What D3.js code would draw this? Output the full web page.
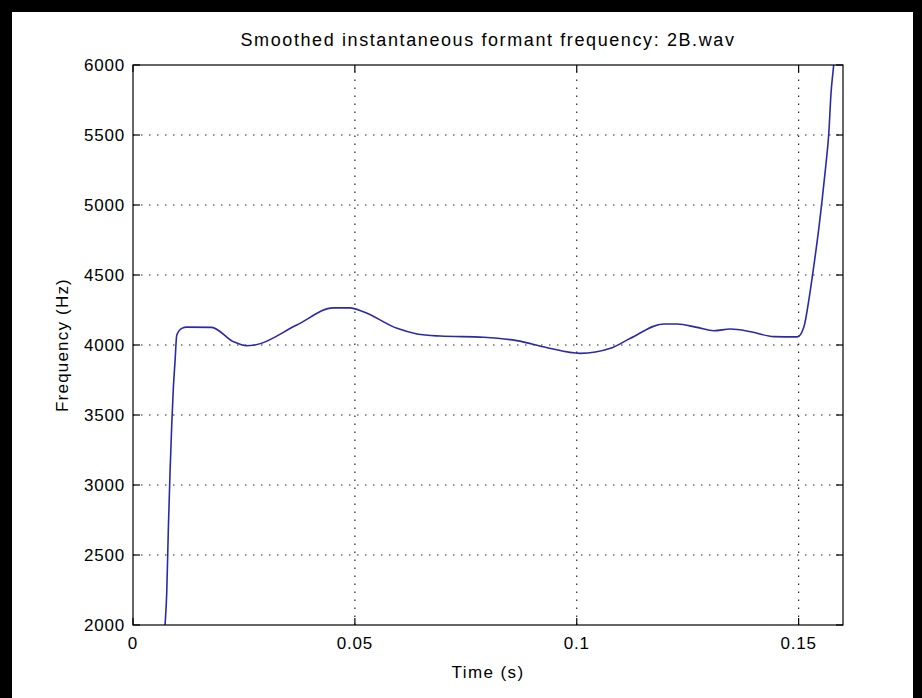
<!DOCTYPE html>
<html>
<head>
<meta charset="utf-8">
<script src="https://cdn.jsdelivr.net/npm/d3@7"></script>
<style>
  html, body { margin: 0; padding: 0; background: #fff; }
  text { font-family: "Liberation Sans", Arial, sans-serif; fill: #000; }
</style>
</head>
<body>
<div id="app"></div>
<script>
// time (s) and smoothed formant frequency (Hz)
const times = [0.0070, 0.00722, 0.0076, 0.00796, 0.00834, 0.00873, 0.00909, 0.00947, 0.00986,
  0.0110, 0.0121, 0.0177, 0.0226, 0.0256, 0.0275, 0.0369, 0.0452, 0.0489, 0.0519, 0.0595,
  0.0640, 0.0692, 0.0790, 0.0865, 0.0933, 0.1008, 0.1076, 0.1121, 0.1196, 0.1226, 0.1271,
  0.1309, 0.1346, 0.1392, 0.1444, 0.1497, 0.1512, 0.1523, 0.1534, 0.1546, 0.1553, 0.1561,
  0.1568, 0.1573, 0.1579, 0.1583];
const freqs = [1900, 2000, 2229, 2679, 3086, 3429, 3693, 3881, 4070,
  4119, 4128, 4126, 4024, 3995, 4000, 4143, 4265, 4265, 4238, 4119,
  4079, 4064, 4055, 4031, 3981, 3940, 3976, 4048, 4150, 4150, 4126,
  4102, 4114, 4095, 4060, 4058, 4131, 4321, 4559, 4845, 5036, 5274,
  5512, 5798, 6000, 6150];

const xTicks = [0, 0.05, 0.1, 0.15];
const yTicks = [2000, 2500, 3000, 3500, 4000, 4500, 5000, 5500, 6000];
const xTickLabels = ["0", "0.05", "0.1", "0.15"];

const W = 922, H = 698;
const m = { left: 133, top: 65, right: 843, bottom: 625 };

const svg = d3.select("#app").append("svg")
  .attr("width", W).attr("height", H);

// black frame
svg.append("rect").attr("x", 0).attr("y", 0).attr("width", W).attr("height", H).attr("fill", "#000");
svg.append("rect").attr("x", 12).attr("y", 12).attr("width", 901).attr("height", H - 12).attr("fill", "#fff");

const x = d3.scaleLinear().domain([0, 0.16]).range([m.left, m.right]);
const y = d3.scaleLinear().domain([2000, 6000]).range([m.bottom, m.top]);

// dotted grid
const grid = svg.append("g")
  .attr("stroke", "#222").attr("stroke-width", 1.2).attr("stroke-dasharray", "1.5,6.5");
grid.selectAll("line.gx").data(xTicks.filter(d => d > 0)).enter().append("line")
  .attr("x1", d => x(d)).attr("x2", d => x(d)).attr("y1", m.bottom).attr("y2", m.top);
grid.selectAll("line.gy").data(yTicks.filter(d => d > 2000 && d < 6000)).enter().append("line")
  .attr("y1", d => y(d)).attr("y2", d => y(d)).attr("x1", m.left).attr("x2", m.right);

// data line
svg.append("clipPath").attr("id", "clip").append("rect")
  .attr("x", m.left).attr("y", m.top).attr("width", m.right - m.left).attr("height", m.bottom - m.top);

const pts = times.map((t, i) => [t, freqs[i]]);
svg.append("path")
  .datum(pts)
  .attr("clip-path", "url(#clip)")
  .attr("fill", "none")
  .attr("stroke", "#2a2aa8")
  .attr("stroke-width", 1.6)
  .attr("d", d3.line().x(d => x(d[0])).y(d => y(d[1])).curve(d3.curveMonotoneX));

// box and inward ticks
const tk = 7;
const ax = svg.append("g").attr("stroke", "#000").attr("stroke-width", 1.2).attr("fill", "none");
ax.append("rect").attr("x", m.left).attr("y", m.top)
  .attr("width", m.right - m.left).attr("height", m.bottom - m.top);
xTicks.forEach(d => {
  ax.append("line").attr("x1", x(d)).attr("x2", x(d)).attr("y1", m.bottom).attr("y2", m.bottom - tk);
  ax.append("line").attr("x1", x(d)).attr("x2", x(d)).attr("y1", m.top).attr("y2", m.top + tk);
});
yTicks.forEach(d => {
  ax.append("line").attr("x1", m.left).attr("x2", m.left + tk).attr("y1", y(d)).attr("y2", y(d));
  ax.append("line").attr("x1", m.right).attr("x2", m.right - tk).attr("y1", y(d)).attr("y2", y(d));
});

const fs = 17;
svg.selectAll("text.xt").data(xTicks).enter().append("text")
  .attr("x", d => x(d)).attr("y", m.bottom + 24)
  .attr("text-anchor", "middle").attr("font-size", fs).attr("letter-spacing", 0.8)
  .text((d, i) => xTickLabels[i]);

svg.selectAll("text.yt").data(yTicks).enter().append("text")
  .attr("x", m.left - 8).attr("y", d => y(d) + 6)
  .attr("text-anchor", "end").attr("font-size", fs).attr("letter-spacing", 0.8)
  .text(d => d);

svg.append("text")
  .attr("x", (m.left + m.right) / 2).attr("y", 46)
  .attr("text-anchor", "middle").attr("font-size", 18).attr("letter-spacing", 1.6)
  .text("Smoothed instantaneous formant frequency: 2B.wav");

svg.append("text")
  .attr("x", (m.left + m.right) / 2).attr("y", 678)
  .attr("text-anchor", "middle").attr("font-size", fs).attr("letter-spacing", 1.4)
  .text("Time (s)");

svg.append("text")
  .attr("transform", `translate(68, ${(m.top + m.bottom) / 2}) rotate(-90)`)
  .attr("text-anchor", "middle").attr("font-size", fs).attr("letter-spacing", 1.2)
  .text("Frequency (Hz)");
</script>
</body>
</html>
